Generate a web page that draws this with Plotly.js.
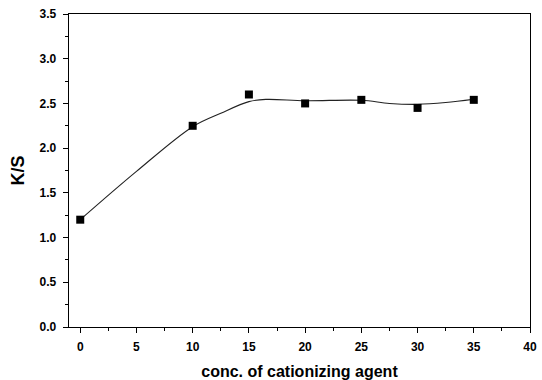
<!DOCTYPE html>
<html>
<head>
<meta charset="utf-8">
<script src="https://cdn.plot.ly/plotly-3.0.1.min.js"></script>
<style>
  html, body { margin: 0; padding: 0; background: #fff; }
  #chart { width: 542px; height: 380px; }
</style>
</head>
<body>
<div id="chart"></div>
<script>
// Measured K/S values at each cationizing agent concentration
const conc = [0, 10, 15, 20, 25, 30, 35];
const ks = [1.2, 2.25, 2.6, 2.5, 2.54, 2.45, 2.54];

// Smoothed trend curve through the measurements
const curveX = [0, 5, 10, 12.5, 15, 16.5, 20, 25, 27.5, 30, 32.5, 35];
const curveY = [1.2, 1.74, 2.24, 2.39, 2.52, 2.545, 2.53, 2.535, 2.5, 2.49, 2.51, 2.547];

const xTicks = [0, 5, 10, 15, 20, 25, 30, 35, 40];
const yTicks = [0, 0.5, 1.0, 1.5, 2.0, 2.5, 3.0, 3.5];

const FONT = 'Liberation Sans, Arial, sans-serif';
const tickFont = { family: FONT, size: 12, color: '#000', weight: 'bold' };

const traces = [
  {
    x: curveX, y: curveY, type: 'scatter', mode: 'lines',
    line: { color: '#222', width: 1.1, shape: 'spline', smoothing: 1.0 },
    hoverinfo: 'skip', showlegend: false
  },
  {
    x: conc, y: ks, type: 'scatter', mode: 'markers',
    marker: { symbol: 'square', size: 8, color: '#000' },
    showlegend: false
  }
];

const layout = {
  width: 542, height: 380,
  margin: { l: 69, r: 12, t: 14, b: 53 },
  paper_bgcolor: '#fff', plot_bgcolor: '#fff',
  xaxis: {
    range: [-1, 40],
    tickvals: xTicks, ticktext: xTicks.map(String),
    ticks: 'outside', ticklen: 5, tickwidth: 1, tickcolor: '#000',
    ticklabelstandoff: 3,
    minor: { dtick: 2.5, tick0: 0, ticks: 'outside', ticklen: 3, tickcolor: '#000', showgrid: false },
    showline: true, linecolor: '#000', linewidth: 1.3, mirror: true,
    showgrid: false, zeroline: false,
    tickfont: tickFont,
    title: { text: 'conc. of cationizing agent', standoff: 13,
             font: { family: FONT, size: 16, color: '#000', weight: 'bold' } }
  },
  yaxis: {
    range: [0, 3.5],
    tickvals: yTicks, ticktext: yTicks.map(v => v.toFixed(1)),
    ticks: 'outside', ticklen: 5, tickwidth: 1, tickcolor: '#000',
    ticklabelstandoff: 4,
    minor: { dtick: 0.25, tick0: 0, ticks: 'outside', ticklen: 3, tickcolor: '#000', showgrid: false },
    showline: true, linecolor: '#000', linewidth: 1.3, mirror: true,
    showgrid: false, zeroline: false,
    tickfont: tickFont,
    title: { text: 'K/S', standoff: 10,
             font: { family: FONT, size: 18, color: '#000', weight: 'bold' } }
  }
};

Plotly.newPlot('chart', traces, layout, { displayModeBar: false, staticPlot: true });
</script>
</body>
</html>
